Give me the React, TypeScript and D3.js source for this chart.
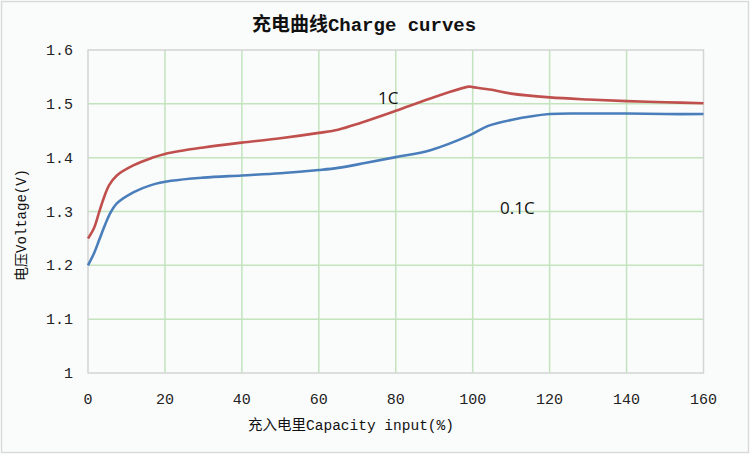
import React from "react";
import * as d3 from "d3";

const capacity1C = [0, 1.6, 2.9, 4.2, 5.5, 7.5, 11.9, 16.4, 20, 30, 40, 50, 60, 65, 71, 80, 89, 99, 100, 105, 110, 120, 130, 140, 150, 160];
const voltage1C = [1.25, 1.27, 1.299, 1.327, 1.349, 1.367, 1.386, 1.399, 1.407, 1.419, 1.428, 1.436, 1.446, 1.452, 1.465, 1.487, 1.51, 1.532, 1.531, 1.526, 1.519, 1.512, 1.508, 1.505, 1.503, 1.501];
const capacity01C = [0, 1.6, 2.9, 4.2, 5.5, 7.5, 11.9, 16.4, 21.6, 30, 40, 50, 60, 65, 72, 80, 89, 99, 104, 110, 120, 130, 140, 150, 160];
const voltage01C = [1.2, 1.223, 1.247, 1.271, 1.293, 1.315, 1.336, 1.349, 1.357, 1.363, 1.367, 1.371, 1.377, 1.381, 1.39, 1.401, 1.414, 1.441, 1.459, 1.47, 1.481, 1.482, 1.482, 1.481, 1.481];
const xTicks = [0, 20, 40, 60, 80, 100, 120, 140, 160];
const yTicks = [1, 1.1, 1.2, 1.3, 1.4, 1.5, 1.6];
const title = "充电曲线Charge curves";
const xTitle = "充入电里Capacity input(%)";
const yTitle = "电压Voltage(V)";

const W = 750, H = 454;
const left = 88, right = 703.5, top = 50, bottom = 373;
const mono = "'Liberation Mono', 'Noto Sans CJK SC', monospace";

export default function App() {
  const x = d3.scaleLinear().domain([0, 160]).range([left, right]);
  const y = d3.scaleLinear().domain([1, 1.6]).range([bottom, top]);
  const line = d3.line<[number, number]>().x(d => x(d[0])).y(d => y(d[1])).curve(d3.curveCatmullRom.alpha(0.5));
  const red = line(capacity1C.map((c, i) => [c, voltage1C[i]] as [number, number])) || "";
  const blue = line(capacity01C.map((c, i) => [c, voltage01C[i]] as [number, number])) || "";
  return (
    <svg width={W} height={H} style={{ position: "fixed", left: 0, top: 0 }}>
      <rect x={1.5} y={1.5} width={W - 3} height={H - 3} fill="#fafbfb" stroke="#d9d9d9" strokeWidth={1.5} />
      {xTicks.slice(1, -1).map(t => (
        <line key={"gx" + t} x1={x(t)} x2={x(t)} y1={top} y2={bottom} stroke="#c3e4bd" strokeWidth={1.5} />
      ))}
      {yTicks.slice(1, -1).map(t => (
        <line key={"gy" + t} x1={left} x2={right} y1={y(t)} y2={y(t)} stroke="#c3e4bd" strokeWidth={1.5} />
      ))}
      <rect x={left} y={top} width={right - left} height={bottom - top} fill="none" stroke="#d4d4d4" strokeWidth={1.5} />
      <path d={red} fill="none" stroke="#c0504d" strokeWidth={2.6} strokeLinejoin="round" />
      <path d={blue} fill="none" stroke="#4a7ebb" strokeWidth={2.6} strokeLinejoin="round" />
      {yTicks.map(t => (
        <text key={"ty" + t} x={73} y={y(t) + 5} textAnchor="end" fontFamily={mono} fontSize={15} fill="#222">{d3.format("~g")(t)}</text>
      ))}
      {xTicks.map(t => (
        <text key={"tx" + t} x={x(t)} y={404} textAnchor="middle" fontFamily={mono} fontSize={15} fill="#222">{t}</text>
      ))}
      <text x={364} y={31} textAnchor="middle" fontFamily={mono} fontWeight="bold" fontSize={19} fill="#111">{title}</text>
      <text x={351} y={430} textAnchor="middle" fontFamily={mono} fontSize={14.5} fill="#111">{xTitle}</text>
      <text transform={`translate(26,225) rotate(-90)`} textAnchor="middle" fontFamily={mono} fontSize={14} fill="#111">{yTitle}</text>
      <text x={378} y={104} fontFamily="'Open Sans', sans-serif" fontSize={17} fill="#111">1C</text>
      <text x={500} y={214} fontFamily="'Open Sans', sans-serif" fontSize={17} fill="#111">0.1C</text>
    </svg>
  );
}
